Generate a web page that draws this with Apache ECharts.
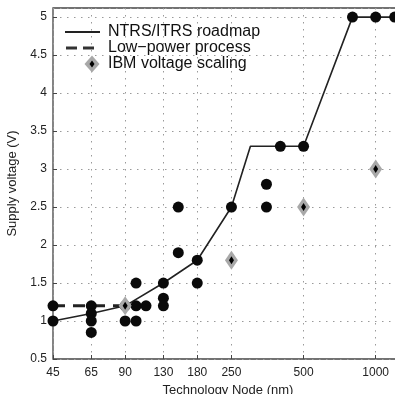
<!DOCTYPE html>
<html>
<head>
<meta charset="utf-8">
<script src="https://cdn.jsdelivr.net/npm/echarts@6/dist/echarts.min.js"></script>
<style>html,body{margin:0;padding:0;background:#fff}#c{width:395px;height:394px}</style>
</head>
<body>
<div id="c"></div>
<script>
// x tick labels (technology node, nm)
var xTicks = [45, 65, 90, 130, 180, 250, 500, 1000];
// NTRS/ITRS roadmap
var roadmapNodes = [45, 65, 90, 130, 180, 250, 300, 500, 800, 1300];
var roadmapVolts = [1.0, 1.1, 1.2, 1.5, 1.8, 2.5, 3.3, 3.3, 5.0, 5.0];
// Low-power process
var lowPowerNodes = [45, 90];
var lowPowerVolts = [1.2, 1.2];
// IBM voltage scaling
var ibmNodes = [90, 250, 500, 1000];
var ibmVolts = [1.2, 1.8, 2.5, 3.0];
// Individual processes (black dots)
var procNodes = [45, 45, 65, 65, 65, 65, 90, 90, 100, 100, 100, 110, 130, 130, 130, 150, 150, 180, 180, 250, 350, 350, 400, 500, 800, 1000, 1200];
var procVolts = [1.2, 1.0, 1.2, 1.1, 1.0, 0.85, 1.2, 1.0, 1.5, 1.2, 1.0, 1.2, 1.5, 1.3, 1.2, 2.5, 1.9, 1.8, 1.5, 2.5, 2.8, 2.5, 3.3, 3.3, 5.0, 5.0, 5.0];

function zip(a, b) { return a.map(function (v, i) { return [v, b[i]]; }); }
function svgIcon(body) {
  var s = "<svg xmlns='http://www.w3.org/2000/svg' width='38' height='18' viewBox='0 0 38 18'>" + body + "</svg>";
  return 'image://data:image/svg+xml;charset=utf-8,' + encodeURIComponent(s);
}

var FONT = '"Liberation Sans", Arial, Helvetica, sans-serif';
var roadIcon = svgIcon("<line x1='0' y1='9' x2='35' y2='9' stroke='#222' stroke-width='2.2'/>");
var lowIcon = svgIcon("<line x1='1' y1='9' x2='12' y2='9' stroke='#333' stroke-width='3'/><line x1='18' y1='9' x2='29' y2='9' stroke='#333' stroke-width='3'/>");
var ibmIcon = svgIcon("<polygon points='27,0.5 34.5,9 27,17.5 19.5,9' fill='#a8a8a8'/><polygon points='27,5.5 29.5,9 27,12.5 24.5,9' fill='#000'/>");

var chart = echarts.init(document.getElementById('c'));
var gridDot = { type: [1.5, 5.5], width: 1, color: '#9a9a9a' };
chart.setOption({
  animation: false,
  textStyle: { fontFamily: FONT },
  grid: { left: 53, top: 8, right: -8, bottom: 35, outerBoundsMode: 'none', containLabel: false, show: true, borderColor: '#444', borderWidth: 1.3, backgroundColor: 'transparent' },
  legend: {
    orient: 'vertical', left: 65, top: 23, padding: 0, itemGap: -2,
    itemWidth: 38, itemHeight: 18,
    textStyle: { fontSize: 16, color: '#111', fontFamily: FONT, lineHeight: 16 },
    data: [
      { name: 'NTRS/ITRS roadmap', icon: roadIcon },
      { name: 'Low\u2212power process', icon: lowIcon },
      { name: 'IBM voltage scaling', icon: ibmIcon }
    ]
  },
  xAxis: {
    type: 'log', min: 45, max: 1300, logBase: 10,
    name: 'Technology Node (nm)', nameLocation: 'middle', nameGap: 24,
    nameTextStyle: { fontSize: 13, color: '#222', fontFamily: FONT },
    axisLine: { show: false },
    axisTick: { show: true, inside: true, length: 4, customValues: xTicks, lineStyle: { color: '#444' } },
    axisLabel: { customValues: xTicks, fontSize: 12, color: '#222', margin: 8, fontFamily: FONT, formatter: function (v) { return String(Math.round(v)); } },
    splitLine: { show: true, lineStyle: gridDot }
  },
  yAxis: {
    type: 'value', min: 0.5, max: 5.12, interval: 0.5,
    name: 'Supply voltage (V)', nameLocation: 'middle', nameGap: 28,
    nameTextStyle: { fontSize: 13, color: '#222', fontFamily: FONT },
    axisLine: { show: false },
    axisTick: { show: true, inside: true, length: 4, lineStyle: { color: '#444' } },
    axisLabel: { fontSize: 12, color: '#222', margin: 6, showMaxLabel: false, fontFamily: FONT },
    splitLine: { show: true, lineStyle: gridDot }
  },
  series: [
    {
      name: 'NTRS/ITRS roadmap', type: 'line', data: zip(roadmapNodes, roadmapVolts),
      symbol: 'none', lineStyle: { color: '#222', width: 1.6 }, itemStyle: { color: '#222' }, z: 3
    },
    {
      name: 'Low\u2212power process', type: 'line', data: zip(lowPowerNodes, lowPowerVolts),
      symbol: 'none', lineStyle: { color: '#222', width: 3, type: [12, 8] }, itemStyle: { color: '#222' }, z: 3
    },
    {
      name: 'processes', type: 'scatter', data: zip(procNodes, procVolts),
      symbol: 'circle', symbolSize: 11, itemStyle: { color: '#0a0a0a', opacity: 1 }, z: 4
    },
    {
      name: 'IBM voltage scaling', type: 'scatter', data: zip(ibmNodes, ibmVolts),
      symbol: 'diamond', symbolSize: [13, 19], itemStyle: { color: '#a8a8a8', opacity: 1 }, z: 5
    },
    {
      name: 'IBM inner', type: 'scatter', data: zip(ibmNodes, ibmVolts),
      symbol: 'diamond', symbolSize: [5, 8], itemStyle: { color: '#000', opacity: 1 }, z: 6
    }
  ]
});
</script>
</body>
</html>
